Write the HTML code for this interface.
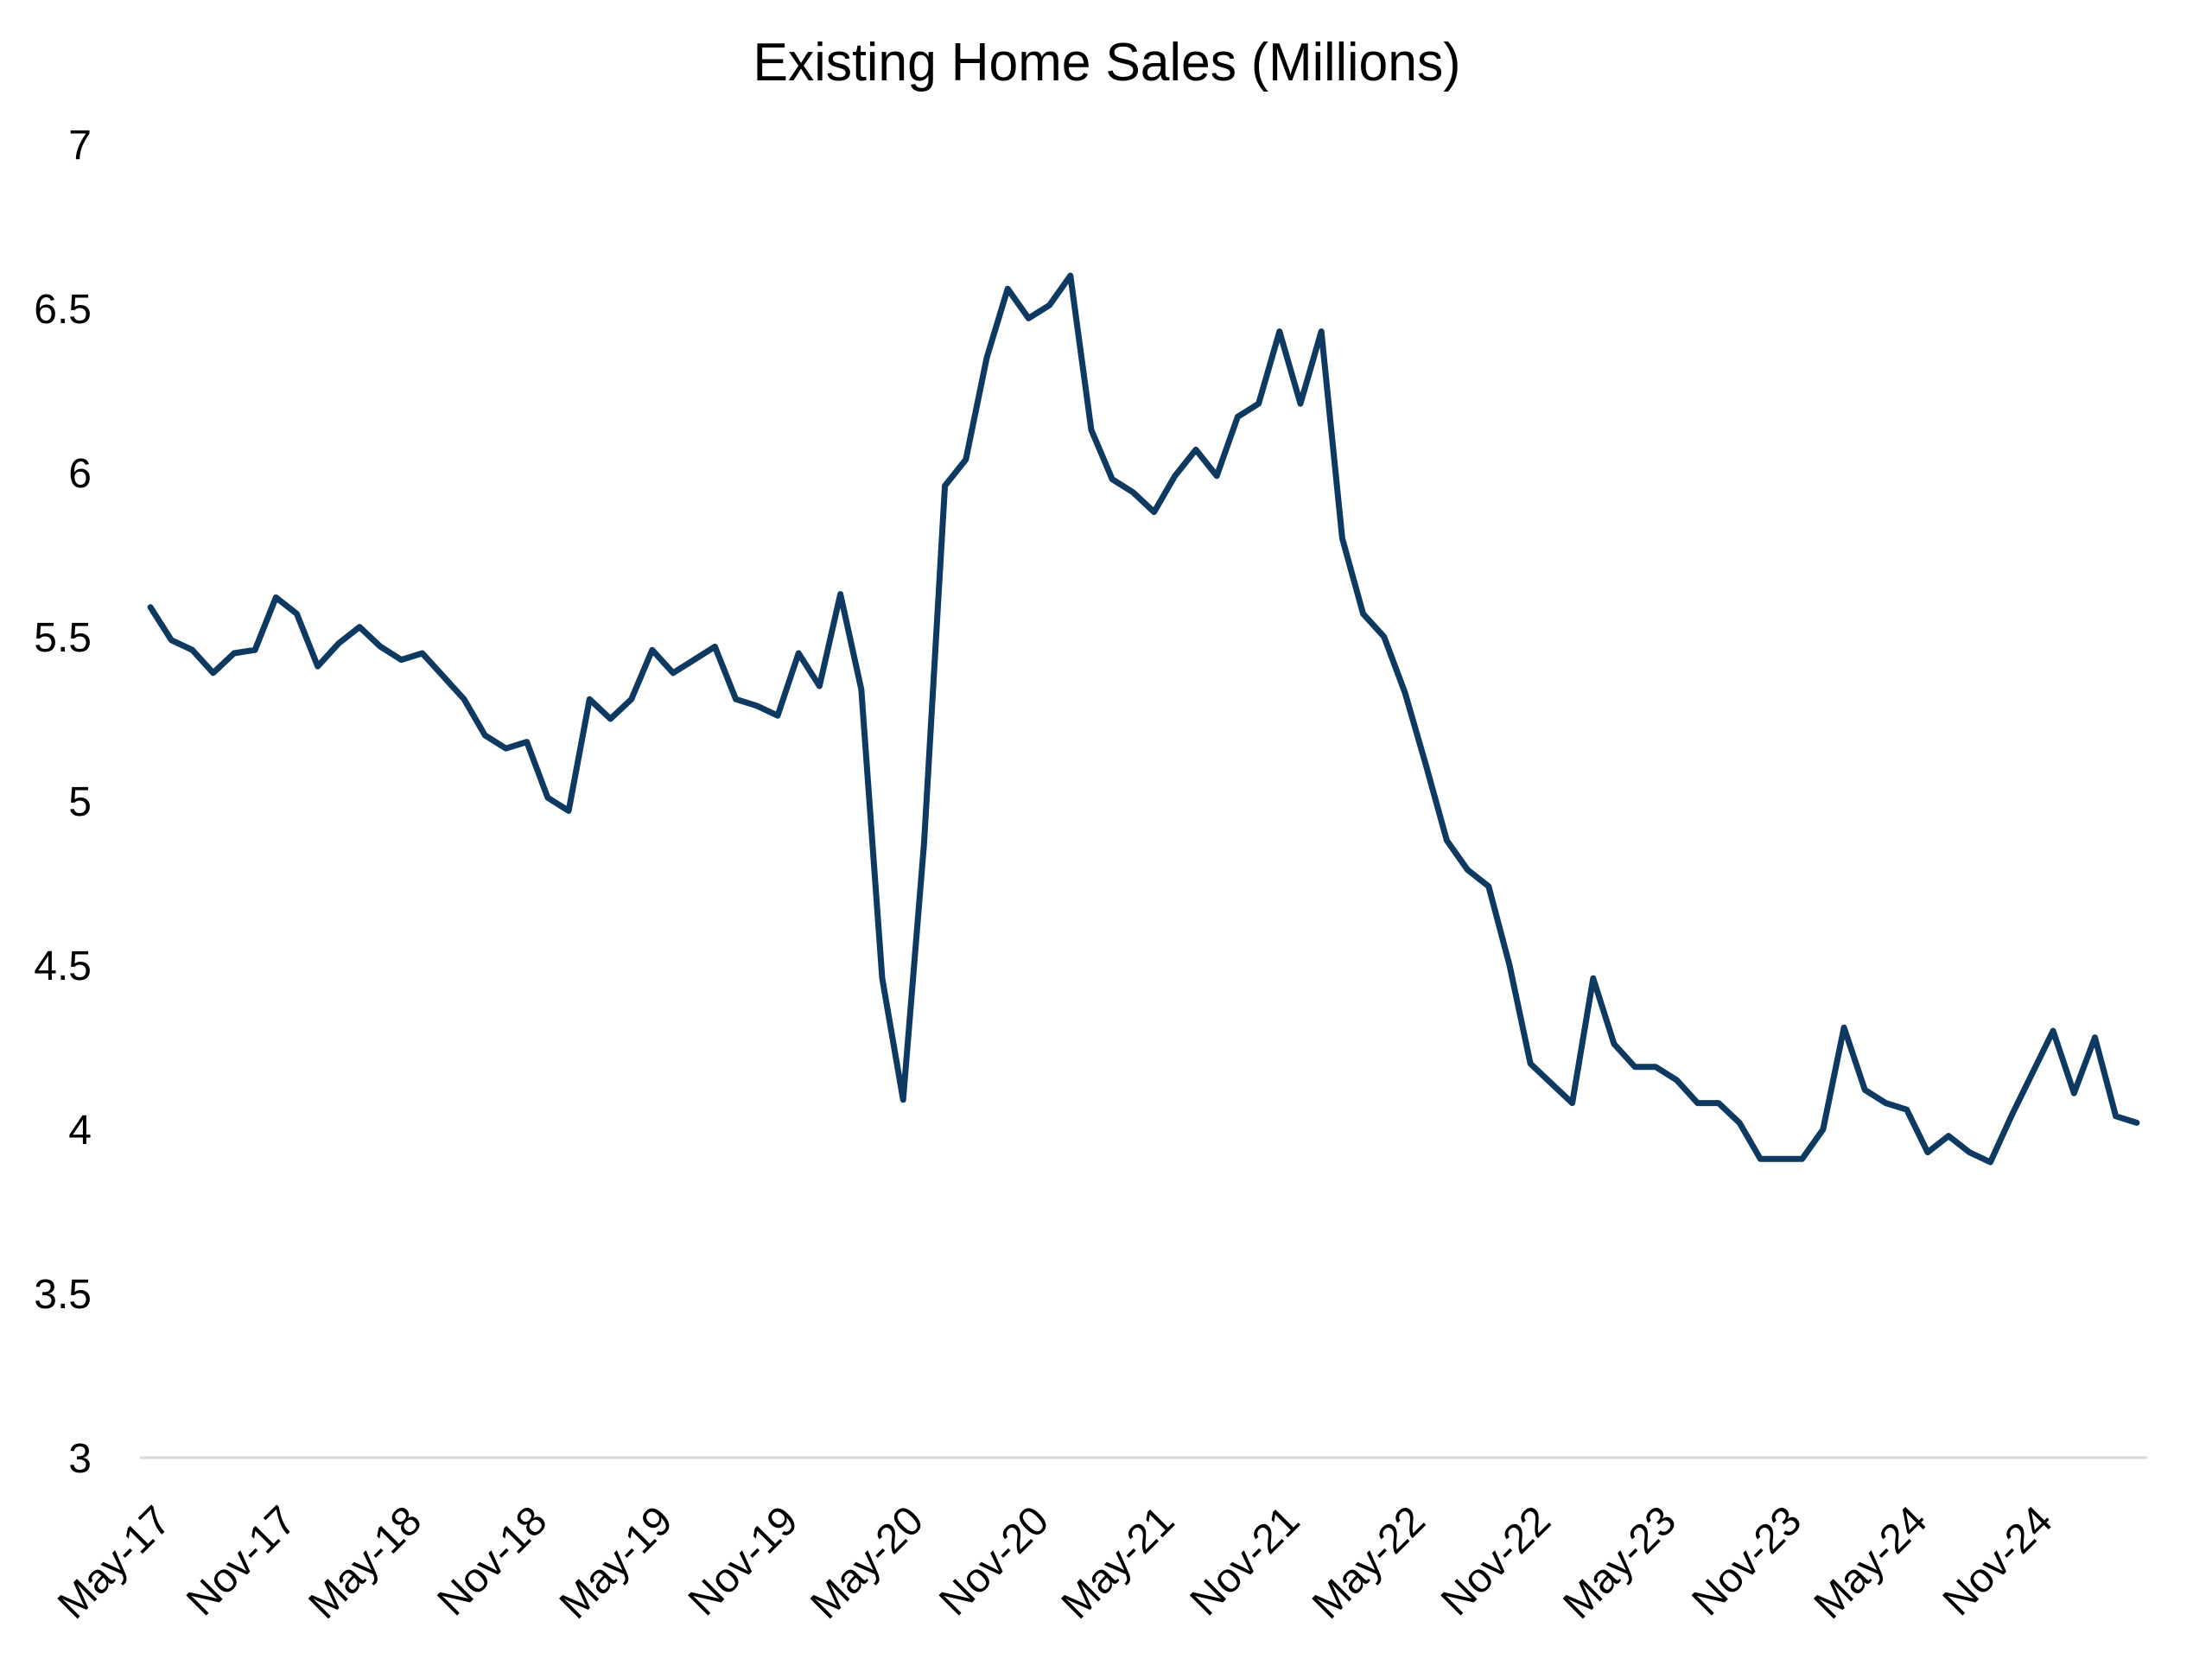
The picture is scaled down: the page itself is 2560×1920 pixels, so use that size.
<!DOCTYPE html>
<html><head><meta charset="utf-8"><style>
html,body{margin:0;padding:0;background:#fff;}
svg{display:block;}
text{font-family:"Liberation Sans",sans-serif;fill:#000;}
</style></head>
<body>
<svg id="chart" width="2560" height="1920" viewBox="0 0 2560 1920" xmlns="http://www.w3.org/2000/svg">
<rect width="2560" height="1920" fill="#fff"/>
<text x="1281" y="93" text-anchor="middle" font-size="62" textLength="819" lengthAdjust="spacingAndGlyphs">Existing Home Sales (Millions)</text>
<line x1="162" y1="1687" x2="2485" y2="1687" stroke="#d9d9d9" stroke-width="3"/>
<g id="yticks"></g>
<g id="xticks"></g>
<g id="series"></g>
</svg>
<script>
const startYear = 2017, startMonth = 4; // May-2017
const salesValues = [5.59,5.49,5.46,5.39,5.45,5.46,5.62,5.57,5.41,5.48,5.53,5.47,5.43,5.45,5.38,5.31,5.20,5.16,5.18,5.01,4.97,5.31,5.25,5.31,5.46,5.39,5.43,5.47,5.31,5.29,5.26,5.45,5.35,5.63,5.34,4.46,4.09,4.87,5.96,6.04,6.35,6.56,6.47,6.51,6.60,6.13,5.98,5.94,5.88,5.99,6.07,5.99,6.17,6.21,6.43,6.21,6.43,5.80,5.57,5.50,5.33,5.11,4.88,4.79,4.74,4.50,4.20,4.14,4.08,4.46,4.26,4.19,4.19,4.15,4.08,4.08,4.02,3.91,3.91,3.91,4.00,4.31,4.12,4.08,4.06,3.93,3.98,3.93,3.90,4.04,4.17,4.30,4.11,4.28,4.04,4.02];
const yTickValues = [3,3.5,4,4.5,5,5.5,6,6.5,7];
const yTickLabels = ["3","3.5","4","4.5","5","5.5","6","6.5","7"];
const xLabelEvery = 6;

const NS = "http://www.w3.org/2000/svg";
const plotLeft = 162, plotRight = 2485, yMin = 3, yMax = 7, yBottom = 1687, yTop = 167;
const step = (plotRight - plotLeft) / salesValues.length;
function xPos(i){ return plotLeft + step * (i + 0.5); }
function yPos(v){ return yBottom - (v - yMin) / (yMax - yMin) * (yBottom - yTop); }
const months = ["Jan","Feb","Mar","Apr","May","Jun","Jul","Aug","Sep","Oct","Nov","Dec"];
function monthLabel(i){ const m = startMonth + i; const y = startYear + Math.floor(m/12); return months[m%12] + "-" + String(y).slice(2); }

const yg = document.getElementById("yticks");
yTickValues.forEach((v, k) => {
  const t = document.createElementNS(NS, "text");
  t.setAttribute("x", 106);
  t.setAttribute("y", yPos(v) + 17);
  t.setAttribute("text-anchor", "end");
  t.setAttribute("font-size", "48");
  
  
  t.textContent = yTickLabels[k];
  yg.appendChild(t);
});

const xg = document.getElementById("xticks");
for (let i = 0; i < salesValues.length; i += xLabelEvery) {
  const t = document.createElementNS(NS, "text");
  const ax = xPos(i) + 26, ay = 1763;
  t.setAttribute("x", ax);
  t.setAttribute("y", ay);
  t.setAttribute("text-anchor", "end");
  t.setAttribute("font-size", "48");
  t.setAttribute("transform", "rotate(-45 " + ax + " " + ay + ")");
  
  
  t.textContent = monthLabel(i);
  xg.appendChild(t);
}

const sg = document.getElementById("series");
const pts = salesValues.map((v, i) => xPos(i).toFixed(1) + "," + yPos(v).toFixed(1)).join(" ");
const line = document.createElementNS(NS, "polyline");
line.setAttribute("points", pts);
line.setAttribute("fill", "none");
line.setAttribute("stroke", "#0e3a61");
line.setAttribute("stroke-width", "7");
line.setAttribute("stroke-linejoin", "round");
line.setAttribute("stroke-linecap", "round");


sg.appendChild(line);
</script>
</body></html>
